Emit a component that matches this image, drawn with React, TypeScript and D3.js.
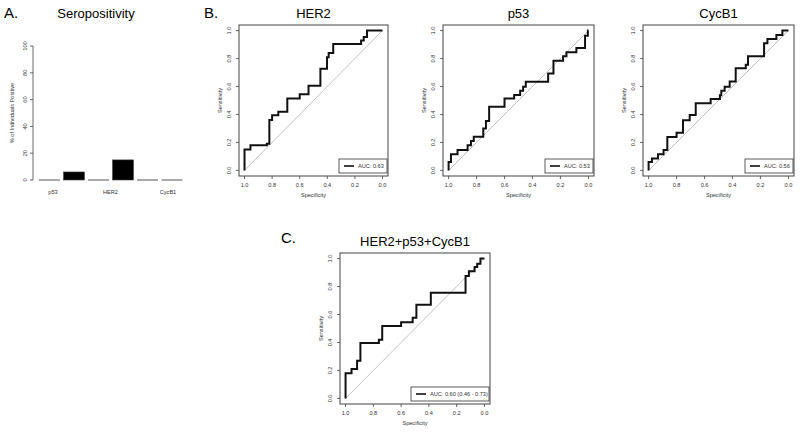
import React from "react";
import * as d3 from "d3";

// ---------- Panel A data ----------
const barCategories = ["p53", "HER2", "CycB1"];
const barGroups = ["control", "case"];
const controlPositive = [0, 0, 0];
const casePositive = [6, 15, 0];
const barTicks = [0, 20, 40, 60, 80, 100];

// ---------- ROC data (specificity, sensitivity step corners) ----------
const rocTicks = [1.0, 0.8, 0.6, 0.4, 0.2, 0.0];

const her2Spec = [1, 1, 0.957, 0.838, 0.82, 0.8, 0.755, 0.69, 0.6, 0.536, 0.45, 0.402, 0.39, 0.357, 0.155, 0.136, 0.112, 0];
const her2Sens = [0, 0.15, 0.18, 0.19, 0.36, 0.395, 0.42, 0.515, 0.545, 0.605, 0.727, 0.81, 0.84, 0.905, 0.93, 0.955, 1.0, 1.0];

const p53Spec = [1, 1, 0.983, 0.936, 0.864, 0.84, 0.82, 0.752, 0.733, 0.71, 0.6, 0.531, 0.488, 0.467, 0.448, 0.288, 0.25, 0.181, 0.157, 0.086, 0.024, 0.004, 0];
const p53Sens = [0, 0.06, 0.115, 0.146, 0.18, 0.21, 0.24, 0.3, 0.354, 0.455, 0.514, 0.54, 0.57, 0.598, 0.634, 0.694, 0.785, 0.816, 0.845, 0.876, 0.964, 1.0, 1.0];

const cycSpec = [1, 1, 0.976, 0.933, 0.893, 0.866, 0.8, 0.754, 0.706, 0.663, 0.556, 0.49, 0.48, 0.456, 0.42, 0.377, 0.305, 0.289, 0.174, 0.15, 0.086, 0.043, 0];
const cycSens = [0, 0.06, 0.086, 0.115, 0.146, 0.239, 0.27, 0.359, 0.397, 0.48, 0.51, 0.538, 0.57, 0.598, 0.636, 0.73, 0.756, 0.816, 0.909, 0.94, 0.969, 1.0, 1.0];

const comboSpec = [1, 1, 0.957, 0.917, 0.893, 0.76, 0.736, 0.6, 0.517, 0.49, 0.386, 0.136, 0.112, 0.071, 0.052, 0.029, 0];
const comboSens = [0, 0.18, 0.21, 0.27, 0.397, 0.42, 0.517, 0.545, 0.577, 0.67, 0.756, 0.876, 0.909, 0.94, 0.964, 1.0, 1.0];

const FONT = "'Liberation Sans', Arial, Helvetica, sans-serif";
const SMALL = 5.6;

type RocProps = {
  x0: number; y0: number; w: number; h: number;
  title: string; spec: number[]; sens: number[];
  legend: string; legendW: number;
};

function RocPanel({ x0, y0, w, h, title, spec, sens, legend, legendW }: RocProps) {
  const x = d3.scaleLinear().domain([1.04, -0.04]).range([x0, x0 + w]);
  const y = d3.scaleLinear().domain([-0.04, 1.04]).range([y0 + h, y0]);
  const idx = d3.range(spec.length);
  const line = d3
    .line<number>()
    .x((i) => x(spec[i]))
    .y((i) => y(sens[i]))
    .curve(d3.curveStepAfter);
  const lx = x0 + w - 1 - legendW;
  const ly = y0 + h - 3 - 14;
  return (
    <g fontFamily={FONT}>
      <text x={x0 + w / 2} y={y0 - 7} fontSize={13} textAnchor="middle" fill="#000">{title}</text>
      <line x1={x(1)} y1={y(0)} x2={x(0)} y2={y(1)} stroke="#c4c4c4" strokeWidth={1} />
      <path d={line(idx) || ""} fill="none" stroke="#111" strokeWidth={2} />
      <rect x={x0} y={y0} width={w} height={h} fill="none" stroke="#444" strokeWidth={1} />
      {rocTicks.map((t) => (
        <g key={"x" + t}>
          <line x1={x(t)} x2={x(t)} y1={y0 + h} y2={y0 + h + 3} stroke="#444" strokeWidth={0.8} />
          <text x={x(t)} y={y0 + h + 11} fontSize={SMALL} textAnchor="middle" fill="#333">{t.toFixed(1)}</text>
        </g>
      ))}
      {rocTicks.map((t) => (
        <g key={"y" + t}>
          <line x1={x0} x2={x0 - 3} y1={y(t)} y2={y(t)} stroke="#444" strokeWidth={0.8} />
          <text transform={`translate(${x0 - 8},${y(t)}) rotate(-90)`} fontSize={SMALL} textAnchor="middle" fill="#333">{t.toFixed(1)}</text>
        </g>
      ))}
      <text x={x0 + w / 2} y={y0 + h + 21} fontSize={SMALL} textAnchor="middle" fill="#333">Specificity</text>
      <text transform={`translate(${x0 - 17},${y0 + h / 2}) rotate(-90)`} fontSize={SMALL} textAnchor="middle" fill="#333">Sensitivity</text>
      <rect x={lx} y={ly} width={legendW} height={14} fill="#fff" stroke="#333" strokeWidth={0.8} />
      <line x1={lx + 5} x2={lx + 15} y1={ly + 7} y2={ly + 7} stroke="#111" strokeWidth={1.6} />
      <text x={lx + 19} y={ly + 9} fontSize={SMALL} fill="#333">{legend}</text>
    </g>
  );
}

function BarPanel() {
  const bars = barCategories.flatMap((c, i) => [
    { key: c + "-" + barGroups[0], v: controlPositive[i] },
    { key: c + "-" + barGroups[1], v: casePositive[i] },
  ]);
  const xb = d3.scaleBand<string>().domain(bars.map((b) => b.key)).range([37.25, 184.25]).paddingInner(0.143).paddingOuter(0.0714);
  const yb = d3.scaleLinear().domain([0, 100]).range([180, 46]);
  const xl = d3.scalePoint<string>().domain(barCategories).range([53, 168]);
  const axX = 33;
  return (
    <g fontFamily={FONT}>
      <text x={4} y={18} fontSize={15} fill="#000">A.</text>
      <text x={96} y={18} fontSize={13} textAnchor="middle" fill="#000">Seropositivity</text>
      <line x1={axX} x2={axX} y1={yb(0)} y2={yb(100)} stroke="#444" strokeWidth={0.8} />
      {barTicks.map((t) => (
        <g key={t}>
          <line x1={axX} x2={axX - 3} y1={yb(t)} y2={yb(t)} stroke="#444" strokeWidth={0.8} />
          <text transform={`translate(${axX - 6},${yb(t)}) rotate(-90)`} fontSize={SMALL} textAnchor="middle" fill="#333">{t}</text>
        </g>
      ))}
      <text transform={`translate(14,${(yb(0) + yb(100)) / 2}) rotate(-90)`} fontSize={SMALL} textAnchor="middle" fill="#333">% of Individuals Positive</text>
      {bars.map((b) => {
        const hgt = yb(0) - yb(b.v);
        return hgt > 0 ? (
          <rect key={b.key} x={xb(b.key)} y={yb(b.v)} width={xb.bandwidth()} height={hgt} fill="#000" stroke="#444" strokeWidth={0.6} />
        ) : (
          <line key={b.key} x1={xb(b.key)} x2={(xb(b.key) || 0) + xb.bandwidth()} y1={yb(0)} y2={yb(0)} stroke="#555" strokeWidth={1} />
        );
      })}
      {barCategories.map((c) => (
        <text key={c} x={xl(c)} y={194} fontSize={SMALL} textAnchor="middle" fill="#333">{c}</text>
      ))}
    </g>
  );
}

export default function App() {
  return (
    <svg width={800} height={432} style={{ position: "absolute", left: 0, top: 0, background: "#fff" }}>
      <rect width={800} height={432} fill="#fff" />
      <BarPanel />
      <text x={204} y={18} fontSize={15} fontFamily={FONT} fill="#000">B.</text>
      <RocPanel x0={239} y0={25} w={149} h={151} title="HER2" spec={her2Spec} sens={her2Sens} legend="AUC:  0.63" legendW={48} />
      <RocPanel x0={443} y0={25} w={151} h={151} title="p53" spec={p53Spec} sens={p53Sens} legend="AUC:  0.53" legendW={48} />
      <RocPanel x0={643} y0={25} w={151} h={151} title="CycB1" spec={cycSpec} sens={cycSens} legend="AUC:  0.56" legendW={48} />
      <text x={281} y={243} fontSize={15} fontFamily={FONT} fill="#000">C.</text>
      <RocPanel x0={340} y0={253} w={150} h={151} title="HER2+p53+CycB1" spec={comboSpec} sens={comboSens} legend="AUC:  0.60 (0.46 - 0.73)" legendW={78} />
    </svg>
  );
}
